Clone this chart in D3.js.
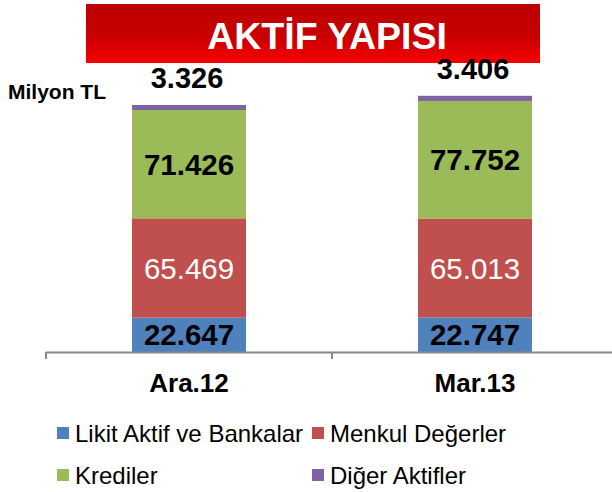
<!DOCTYPE html>
<html><head><meta charset="utf-8">
<script src="https://cdn.jsdelivr.net/npm/d3@7"></script>
<style>body{margin:0;background:#fff}svg{display:block}text{font-family:"Liberation Sans",Arial,sans-serif}</style>
</head><body>
<script>
const categories = ["Ara.12", "Mar.13"];
const seriesNames = ["Likit Aktif ve Bankalar", "Menkul Değerler", "Krediler", "Diğer Aktifler"];
const likit = [22647, 22747];
const menkul = [65469, 65013];
const krediler = [71426, 77752];
const diger = [3326, 3406];
const labelsLikit = ["22.647", "22.747"];
const labelsMenkul = ["65.469", "65.013"];
const labelsKrediler = ["71.426", "77.752"];
const labelsDiger = ["3.326", "3.406"];
const colors = ["#4f81bd", "#c0504d", "#9bbb59", "#8064a2"];

const W = 612, H = 492;
const svg = d3.select("body").append("svg").attr("width", W).attr("height", H);

// title banner
const defs = svg.append("defs");
const g = defs.append("linearGradient").attr("id", "tg").attr("x1", 0).attr("y1", 0).attr("x2", 0).attr("y2", 1);
g.append("stop").attr("offset", "0%").attr("stop-color", "#bd0000");
g.append("stop").attr("offset", "55%").attr("stop-color", "#c80000");
g.append("stop").attr("offset", "100%").attr("stop-color", "#f80000");
svg.append("rect").attr("x", 86).attr("y", 4).attr("width", 454).attr("height", 59).attr("fill", "url(#tg)");
svg.append("text").attr("x", 327).attr("y", 49).attr("text-anchor", "middle")
  .attr("font-size", 37.5).attr("font-weight", "bold").attr("fill", "#fff").text("AKTİF YAPISI");

svg.append("text").attr("x", 8).attr("y", 99).attr("font-size", 21).attr("font-weight", "bold").attr("fill", "#000").text("Milyon TL");

const x = d3.scaleBand().domain(categories).range([46, 618]).paddingInner(0).paddingOuter(0);
const y = d3.scaleLinear().domain([0, 180000]).range([352, 79]);
const bw = 114;

const series = [likit, menkul, krediler, diger];
const labels = [labelsLikit, labelsMenkul, labelsKrediler, labelsDiger];
const data = categories.map((c, i) => {
  const o = {cat: c};
  seriesNames.forEach((s, k) => o[s] = series[k][i]);
  return o;
});
const stack = d3.stack().keys(seriesNames)(data);

stack.forEach((layer, k) => {
  svg.append("g").selectAll("rect").data(layer).join("rect")
    .attr("x", d => x(d.data.cat) + x.bandwidth() / 2 - bw / 2)
    .attr("width", bw)
    .attr("y", d => y(d[1]))
    .attr("height", d => y(d[0]) - y(d[1]))
    .attr("fill", colors[k]);
});

// labels inside segments (first three)
[0, 1, 2].forEach(k => {
  svg.append("g").selectAll("text").data(stack[k]).join("text")
    .attr("x", d => x(d.data.cat) + x.bandwidth() / 2)
    .attr("y", d => (y(d[0]) + y(d[1])) / 2 + 10.5)
    .attr("text-anchor", "middle")
    .attr("font-size", 29.5)
    .attr("font-weight", k === 1 ? "normal" : "bold")
    .attr("fill", k === 1 ? "#fff" : "#000")
    .text((d, i) => labels[k][i]);
});
// Diğer label above bar
svg.append("g").selectAll("text").data(stack[3]).join("text")
  .attr("x", d => x(d.data.cat) + x.bandwidth() / 2 - 2)
  .attr("y", d => y(d[1]) - 17)
  .attr("text-anchor", "middle")
  .attr("font-size", 29)
  .attr("font-weight", "bold")
  .attr("fill", "#000")
  .text((d, i) => labels[3][i]);

// axis
svg.append("line").attr("x1", 46).attr("x2", 612).attr("y1", 352.5).attr("y2", 352.5).attr("stroke", "#888").attr("stroke-width", 2);
const tickPos = [46, 46 + x.bandwidth()];
svg.append("g").selectAll("line").data(tickPos).join("line")
  .attr("x1", d => d).attr("x2", d => d).attr("y1", 352).attr("y2", 359)
  .attr("stroke", "#888").attr("stroke-width", 2);
svg.append("g").selectAll("text").data(categories).join("text")
  .attr("x", d => x(d) + x.bandwidth() / 2)
  .attr("y", 392)
  .attr("text-anchor", "middle").attr("font-size", 26).attr("font-weight", "bold").attr("fill", "#000")
  .text(d => d);

// legend
const legPos = [[57, 427], [312, 427], [57, 469], [312, 469]];
seriesNames.forEach((s, k) => {
  const [lx, ly] = legPos[k];
  svg.append("rect").attr("x", lx).attr("y", ly).attr("width", 12).attr("height", 12).attr("fill", colors[k]);
  svg.append("text").attr("x", lx + 18).attr("y", ly + 15).attr("font-size", 24).attr("fill", "#000").text(s);
});
</script>
</body></html>
